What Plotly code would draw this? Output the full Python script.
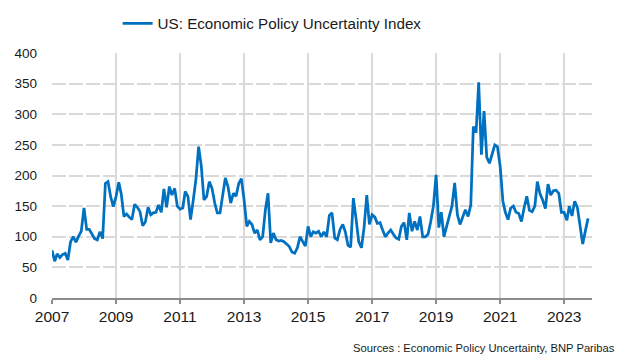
import pandas as pd
import plotly.graph_objects as go

series_name = "US: Economic Policy Uncertainty Index"
start_month = "2007-01-01"

epu_2007 = [78, 60, 72, 66, 71, 73, 62, 92, 100, 91, 101, 109]
epu_2008 = [147, 112, 112, 103, 97, 95, 108, 97, 187, 190, 165, 149]
epu_2009 = [166, 189, 170, 133, 137, 132, 128, 153, 148, 141, 118, 124]
epu_2010 = [148, 136, 139, 140, 152, 140, 178, 148, 182, 168, 179, 150]
epu_2011 = [145, 147, 174, 166, 128, 160, 193, 247, 215, 160, 166, 190]
epu_2012 = [179, 155, 139, 139, 166, 196, 182, 155, 171, 166, 187, 195]
epu_2013 = [160, 117, 125, 120, 106, 111, 95, 100, 144, 171, 90, 106]
epu_2014 = [95, 93, 94, 92, 88, 84, 75, 73, 82, 100, 92, 85]
epu_2015 = [117, 100, 108, 106, 109, 100, 108, 100, 135, 139, 98, 95]
epu_2016 = [112, 120, 108, 86, 83, 163, 130, 92, 82, 115, 168, 120]
epu_2017 = [136, 132, 122, 123, 111, 100, 106, 111, 104, 98, 96, 117]
epu_2018 = [123, 95, 139, 109, 125, 111, 133, 100, 100, 104, 125, 150]
epu_2019 = [201, 115, 140, 100, 117, 136, 150, 188, 136, 120, 133, 144]
epu_2020 = [133, 152, 280, 270, 352, 234, 305, 230, 220, 235, 250, 247]
epu_2021 = [215, 158, 140, 128, 147, 150, 140, 138, 125, 147, 166, 143]
epu_2022 = [141, 150, 190, 170, 160, 146, 186, 168, 175, 176, 171, 140]
epu_2023 = [140, 127, 150, 134, 158, 148, 120, 88, 110, 130]

values = (epu_2007 + epu_2008 + epu_2009 + epu_2010 + epu_2011 + epu_2012 +
          epu_2013 + epu_2014 + epu_2015 + epu_2016 + epu_2017 + epu_2018 +
          epu_2019 + epu_2020 + epu_2021 + epu_2022 + epu_2023)
dates = pd.date_range(start_month, periods=len(values), freq="MS")

source_text = "Sources : Economic Policy Uncertainty, BNP Paribas"

FONT = "Liberation Sans, Arial, sans-serif"
GRID = "#d9d9d9"
TEXT = "#1a1a1a"

fig = go.Figure()
fig.add_trace(go.Scatter(
    x=dates, y=values, mode="lines", name=series_name,
    line=dict(color="#0070C0", width=2.75),
))

fig.update_layout(
    width=625, height=361,
    margin=dict(l=52, r=33, t=53, b=63, autoexpand=False),
    paper_bgcolor="white", plot_bgcolor="white",
    font=dict(family=FONT, color=TEXT),
    showlegend=True,
    legend=dict(
        orientation="h", x=0.1215, y=1.12, xanchor="left", yanchor="middle",
        font=dict(size=15.2, family=FONT, color=TEXT),
        bgcolor="rgba(0,0,0,0)", borderwidth=0,
    ),
    xaxis=dict(
        type="date", range=["2007-01-01", "2023-11-15"],
        tick0="2007-01-01", dtick="M24", tickformat="%Y",
        showgrid=True, gridcolor=GRID, gridwidth=2,
        showline=True, linecolor="#8c8c8c", linewidth=1.5,
        ticks="outside", ticklen=4, tickwidth=2, tickcolor="#8c8c8c",
        tickfont=dict(size=15.5, family=FONT, color=TEXT),
        zeroline=False,
    ),
    yaxis=dict(
        range=[0, 400], dtick=50, tick0=0,
        showgrid=True, gridcolor=GRID, gridwidth=1.5, griddash="14px,3px",
        showline=False, ticks="", ticklabelstandoff=14,
        tickfont=dict(size=13.5, family=FONT, color=TEXT),
        zeroline=False,
    ),
    annotations=[dict(
        text=source_text, xref="paper", yref="paper",
        x=1.0463, y=-0.204, xanchor="right", yanchor="middle",
        showarrow=False, font=dict(size=11.2, family=FONT, color=TEXT),
    )],
)

fig.write_html(
    "out.html",
    config={"displayModeBar": False},
    post_script="document.body.style.margin='0px';",
)
